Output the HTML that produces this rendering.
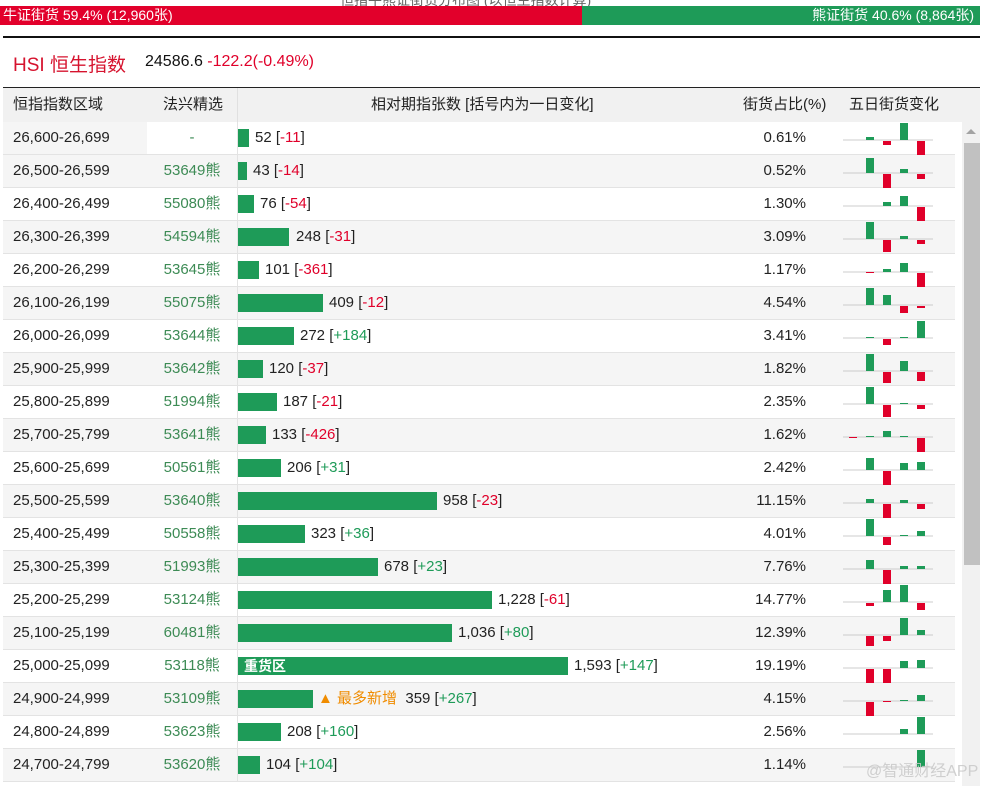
<!DOCTYPE html>
<html><head><meta charset="utf-8"><style>
body{margin:0;width:985px;height:786px;overflow:hidden;background:#fff;font-family:"Liberation Sans","Noto Sans CJK SC",sans-serif;position:relative}
.a{position:absolute}
.row{position:absolute;left:3px;width:952px;height:32px;border-bottom:1px solid #e3e3e3;font-size:15px;color:#222}
.row.g{background:#f5f5f5}
.c1{position:absolute;left:0;width:144px;height:32px;line-height:32px;padding-left:10px;box-sizing:border-box}
.c2{position:absolute;left:144px;width:90px;height:32px;line-height:32px;text-align:center;color:#3d8b55}
.bar{position:absolute;left:235px;top:7px;height:18px;background:#1e9b58}
.lb{position:absolute;top:0;line-height:32px;white-space:nowrap}
.r{color:#e0002a}.gn{color:#1e9b58}
.pc{position:absolute;right:149px;line-height:32px}
.mini{position:absolute;left:837px;top:0}
.dv{position:absolute;left:234px;top:0;width:1px;height:33px;background:#e3e3e3}
</style></head><body>
<div class="a" style="left:340px;top:-10px;font-size:14px;color:#666">恒指牛熊证街货分布图 (以恒生指数计算)</div>
<div class="a" style="left:0;top:6px;width:582px;height:19px;background:#e2002b;color:#fff;font-size:14px;line-height:19px;padding-left:3px;box-sizing:border-box">牛证街货 59.4% (12,960张)</div>
<div class="a" style="left:582px;top:6px;width:398px;height:19px;background:#1e9b58;color:#fff;font-size:14px;line-height:19px;text-align:right;padding-right:6px;box-sizing:border-box">熊证街货 40.6% (8,864张)</div>
<div class="a" style="left:3px;top:36px;width:977px;height:2px;background:#111"></div>
<div class="a" style="left:13px;top:50px;font-size:19px;color:#d6132e">HSI 恒生指数</div>
<div class="a" style="left:145px;top:53px;font-size:16px;color:#111">24586.6 <span class="r">-122.2(-0.49%)</span></div>
<div class="a" style="left:3px;top:87px;width:977px;height:1px;background:#222"></div>
<div class="a" style="left:3px;top:88px;width:977px;height:34px;background:#f1f1f1;font-size:15px;color:#222;line-height:34px">
<span class="a" style="left:10px">恒指指数区域</span><span class="a" style="left:160px">法兴精选</span>
<span class="a" style="left:234px;top:0;width:1px;height:34px;background:#e0e0e0"></span>
<span class="a" style="left:368px">相对期指张数 [括号内为一日变化]</span><span class="a" style="left:740px">街货占比(%)</span><span class="a" style="left:846px">五日街货变化</span></div>
<div class="a" style="left:962px;top:122px;width:18px;height:664px;background:#f1f1f1"></div>
<div class="a" style="left:964px;top:143px;width:16px;height:422px;background:#c1c1c1"></div>
<div class="a" style="left:966px;top:129px;width:0;height:0;border-left:5px solid transparent;border-right:5px solid transparent;border-bottom:5px solid #a3a3a3"></div>

<div class="row" style="top:122px"><div class="c1" style="background:#f5f5f5">26,600-26,699</div><div class="c2">-</div><div class="dv"></div><div class="bar" style="width:11px"></div><div class="lb" style="left:252px">52 [<span class="r">-11</span>]</div><div class="pc">0.61%</div><svg class="mini" width="100" height="33"><line x1="3" x2="93" y1="18" y2="18" stroke="#ccc"/><rect x="26" y="15" width="8" height="3" fill="#1e9b58"/><rect x="43" y="19" width="8" height="4" fill="#e0002a"/><rect x="60" y="1" width="8" height="17" fill="#1e9b58"/><rect x="77" y="19" width="8" height="15" fill="#e0002a"/></svg></div>

<div class="row g" style="top:155px"><div class="c1">26,500-26,599</div><div class="c2">53649熊</div><div class="dv"></div><div class="bar" style="width:9px"></div><div class="lb" style="left:250px">43 [<span class="r">-14</span>]</div><div class="pc">0.52%</div><svg class="mini" width="100" height="33"><line x1="3" x2="93" y1="18" y2="18" stroke="#ccc"/><rect x="26" y="3" width="8" height="15" fill="#1e9b58"/><rect x="43" y="19" width="8" height="17" fill="#e0002a"/><rect x="60" y="14" width="8" height="4" fill="#1e9b58"/><rect x="77" y="19" width="8" height="5" fill="#e0002a"/></svg></div>

<div class="row" style="top:188px"><div class="c1">26,400-26,499</div><div class="c2">55080熊</div><div class="dv"></div><div class="bar" style="width:16px"></div><div class="lb" style="left:257px">76 [<span class="r">-54</span>]</div><div class="pc">1.30%</div><svg class="mini" width="100" height="33"><line x1="3" x2="93" y1="18" y2="18" stroke="#ccc"/><rect x="43" y="14" width="8" height="4" fill="#1e9b58"/><rect x="60" y="8" width="8" height="10" fill="#1e9b58"/><rect x="77" y="19" width="8" height="15" fill="#e0002a"/></svg></div>

<div class="row g" style="top:221px"><div class="c1">26,300-26,399</div><div class="c2">54594熊</div><div class="dv"></div><div class="bar" style="width:51px"></div><div class="lb" style="left:293px">248 [<span class="r">-31</span>]</div><div class="pc">3.09%</div><svg class="mini" width="100" height="33"><line x1="3" x2="93" y1="18" y2="18" stroke="#ccc"/><rect x="26" y="1" width="8" height="17" fill="#1e9b58"/><rect x="43" y="19" width="8" height="12" fill="#e0002a"/><rect x="60" y="15" width="8" height="3" fill="#1e9b58"/><rect x="77" y="19" width="8" height="4" fill="#e0002a"/></svg></div>

<div class="row" style="top:254px"><div class="c1">26,200-26,299</div><div class="c2">53645熊</div><div class="dv"></div><div class="bar" style="width:21px"></div><div class="lb" style="left:262px">101 [<span class="r">-361</span>]</div><div class="pc">1.17%</div><svg class="mini" width="100" height="33"><line x1="3" x2="93" y1="18" y2="18" stroke="#ccc"/><rect x="26" y="18" width="8" height="1" fill="#e0002a"/><rect x="43" y="15" width="8" height="3" fill="#1e9b58"/><rect x="60" y="9" width="8" height="9" fill="#1e9b58"/><rect x="77" y="19" width="8" height="15" fill="#e0002a"/></svg></div>

<div class="row g" style="top:287px"><div class="c1">26,100-26,199</div><div class="c2">55075熊</div><div class="dv"></div><div class="bar" style="width:85px"></div><div class="lb" style="left:326px">409 [<span class="r">-12</span>]</div><div class="pc">4.54%</div><svg class="mini" width="100" height="33"><line x1="3" x2="93" y1="18" y2="18" stroke="#ccc"/><rect x="26" y="1" width="8" height="17" fill="#1e9b58"/><rect x="43" y="8" width="8" height="10" fill="#1e9b58"/><rect x="60" y="19" width="8" height="7" fill="#e0002a"/><rect x="77" y="19" width="8" height="2" fill="#e0002a"/></svg></div>

<div class="row" style="top:320px"><div class="c1">26,000-26,099</div><div class="c2">53644熊</div><div class="dv"></div><div class="bar" style="width:56px"></div><div class="lb" style="left:297px">272 [<span class="gn">+184</span>]</div><div class="pc">3.41%</div><svg class="mini" width="100" height="33"><line x1="3" x2="93" y1="18" y2="18" stroke="#ccc"/><rect x="26" y="17" width="8" height="1" fill="#1e9b58"/><rect x="43" y="19" width="8" height="6" fill="#e0002a"/><rect x="60" y="17" width="8" height="1" fill="#1e9b58"/><rect x="77" y="1" width="8" height="17" fill="#1e9b58"/></svg></div>

<div class="row g" style="top:353px"><div class="c1">25,900-25,999</div><div class="c2">53642熊</div><div class="dv"></div><div class="bar" style="width:25px"></div><div class="lb" style="left:266px">120 [<span class="r">-37</span>]</div><div class="pc">1.82%</div><svg class="mini" width="100" height="33"><line x1="3" x2="93" y1="18" y2="18" stroke="#ccc"/><rect x="26" y="1" width="8" height="17" fill="#1e9b58"/><rect x="43" y="19" width="8" height="11" fill="#e0002a"/><rect x="60" y="8" width="8" height="10" fill="#1e9b58"/><rect x="77" y="19" width="8" height="9" fill="#e0002a"/></svg></div>

<div class="row" style="top:386px"><div class="c1">25,800-25,899</div><div class="c2">51994熊</div><div class="dv"></div><div class="bar" style="width:39px"></div><div class="lb" style="left:280px">187 [<span class="r">-21</span>]</div><div class="pc">2.35%</div><svg class="mini" width="100" height="33"><line x1="3" x2="93" y1="18" y2="18" stroke="#ccc"/><rect x="26" y="1" width="8" height="17" fill="#1e9b58"/><rect x="43" y="19" width="8" height="12" fill="#e0002a"/><rect x="60" y="17" width="8" height="1" fill="#1e9b58"/><rect x="77" y="19" width="8" height="4" fill="#e0002a"/></svg></div>

<div class="row g" style="top:419px"><div class="c1">25,700-25,799</div><div class="c2">53641熊</div><div class="dv"></div><div class="bar" style="width:28px"></div><div class="lb" style="left:269px">133 [<span class="r">-426</span>]</div><div class="pc">1.62%</div><svg class="mini" width="100" height="33"><line x1="3" x2="93" y1="18" y2="18" stroke="#ccc"/><rect x="9" y="18" width="8" height="1" fill="#e0002a"/><rect x="26" y="17" width="8" height="1" fill="#1e9b58"/><rect x="43" y="12" width="8" height="6" fill="#1e9b58"/><rect x="60" y="17" width="8" height="1" fill="#1e9b58"/><rect x="77" y="19" width="8" height="17" fill="#e0002a"/></svg></div>

<div class="row" style="top:452px"><div class="c1">25,600-25,699</div><div class="c2">50561熊</div><div class="dv"></div><div class="bar" style="width:43px"></div><div class="lb" style="left:284px">206 [<span class="gn">+31</span>]</div><div class="pc">2.42%</div><svg class="mini" width="100" height="33"><line x1="3" x2="93" y1="18" y2="18" stroke="#ccc"/><rect x="26" y="6" width="8" height="12" fill="#1e9b58"/><rect x="43" y="19" width="8" height="15" fill="#e0002a"/><rect x="60" y="11" width="8" height="7" fill="#1e9b58"/><rect x="77" y="10" width="8" height="8" fill="#1e9b58"/></svg></div>

<div class="row g" style="top:485px"><div class="c1">25,500-25,599</div><div class="c2">53640熊</div><div class="dv"></div><div class="bar" style="width:199px"></div><div class="lb" style="left:440px">958 [<span class="r">-23</span>]</div><div class="pc">11.15%</div><svg class="mini" width="100" height="33"><line x1="3" x2="93" y1="18" y2="18" stroke="#ccc"/><rect x="26" y="14" width="8" height="4" fill="#1e9b58"/><rect x="43" y="19" width="8" height="17" fill="#e0002a"/><rect x="60" y="15" width="8" height="3" fill="#1e9b58"/><rect x="77" y="19" width="8" height="5" fill="#e0002a"/></svg></div>

<div class="row" style="top:518px"><div class="c1">25,400-25,499</div><div class="c2">50558熊</div><div class="dv"></div><div class="bar" style="width:67px"></div><div class="lb" style="left:308px">323 [<span class="gn">+36</span>]</div><div class="pc">4.01%</div><svg class="mini" width="100" height="33"><line x1="3" x2="93" y1="18" y2="18" stroke="#ccc"/><rect x="26" y="1" width="8" height="17" fill="#1e9b58"/><rect x="43" y="19" width="8" height="8" fill="#e0002a"/><rect x="60" y="17" width="8" height="1" fill="#1e9b58"/><rect x="77" y="13" width="8" height="5" fill="#1e9b58"/></svg></div>

<div class="row g" style="top:551px"><div class="c1">25,300-25,399</div><div class="c2">51993熊</div><div class="dv"></div><div class="bar" style="width:140px"></div><div class="lb" style="left:381px">678 [<span class="gn">+23</span>]</div><div class="pc">7.76%</div><svg class="mini" width="100" height="33"><line x1="3" x2="93" y1="18" y2="18" stroke="#ccc"/><rect x="26" y="9" width="8" height="9" fill="#1e9b58"/><rect x="43" y="19" width="8" height="17" fill="#e0002a"/><rect x="60" y="15" width="8" height="3" fill="#1e9b58"/><rect x="77" y="15" width="8" height="3" fill="#1e9b58"/></svg></div>

<div class="row" style="top:584px"><div class="c1">25,200-25,299</div><div class="c2">53124熊</div><div class="dv"></div><div class="bar" style="width:254px"></div><div class="lb" style="left:495px">1,228 [<span class="r">-61</span>]</div><div class="pc">14.77%</div><svg class="mini" width="100" height="33"><line x1="3" x2="93" y1="18" y2="18" stroke="#ccc"/><rect x="26" y="19" width="8" height="3" fill="#e0002a"/><rect x="43" y="6" width="8" height="12" fill="#1e9b58"/><rect x="60" y="1" width="8" height="17" fill="#1e9b58"/><rect x="77" y="19" width="8" height="7" fill="#e0002a"/></svg></div>

<div class="row g" style="top:617px"><div class="c1">25,100-25,199</div><div class="c2">60481熊</div><div class="dv"></div><div class="bar" style="width:214px"></div><div class="lb" style="left:455px">1,036 [<span class="gn">+80</span>]</div><div class="pc">12.39%</div><svg class="mini" width="100" height="33"><line x1="3" x2="93" y1="18" y2="18" stroke="#ccc"/><rect x="26" y="19" width="8" height="10" fill="#e0002a"/><rect x="43" y="19" width="8" height="5" fill="#e0002a"/><rect x="60" y="1" width="8" height="17" fill="#1e9b58"/><rect x="77" y="13" width="8" height="5" fill="#1e9b58"/></svg></div>

<div class="row" style="top:650px"><div class="c1">25,000-25,099</div><div class="c2">53118熊</div><div class="dv"></div><div class="bar" style="width:330px;color:#fff;font-weight:bold;font-size:14px;line-height:18px;padding-left:6px;box-sizing:border-box">重货区</div><div class="lb" style="left:571px">1,593 [<span class="gn">+147</span>]</div><div class="pc">19.19%</div><svg class="mini" width="100" height="33"><line x1="3" x2="93" y1="18" y2="18" stroke="#ccc"/><rect x="26" y="19" width="8" height="15" fill="#e0002a"/><rect x="43" y="19" width="8" height="15" fill="#e0002a"/><rect x="60" y="11" width="8" height="7" fill="#1e9b58"/><rect x="77" y="10" width="8" height="8" fill="#1e9b58"/></svg></div>

<div class="row g" style="top:683px"><div class="c1">24,900-24,999</div><div class="c2">53109熊</div><div class="dv"></div><div class="bar" style="width:75px"></div><div class="lb" style="left:315px"><span style="color:#f08c00">▲ 最多新增</span>&nbsp; 359 [<span class="gn">+267</span>]</div><div class="pc">4.15%</div><svg class="mini" width="100" height="33"><line x1="3" x2="93" y1="18" y2="18" stroke="#ccc"/><rect x="26" y="19" width="8" height="17" fill="#e0002a"/><rect x="43" y="18" width="8" height="1" fill="#e0002a"/><rect x="60" y="17" width="8" height="1" fill="#1e9b58"/><rect x="77" y="12" width="8" height="6" fill="#1e9b58"/></svg></div>

<div class="row" style="top:716px"><div class="c1">24,800-24,899</div><div class="c2">53623熊</div><div class="dv"></div><div class="bar" style="width:43px"></div><div class="lb" style="left:284px">208 [<span class="gn">+160</span>]</div><div class="pc">2.56%</div><svg class="mini" width="100" height="33"><line x1="3" x2="93" y1="18" y2="18" stroke="#ccc"/><rect x="60" y="13" width="8" height="5" fill="#1e9b58"/><rect x="77" y="1" width="8" height="17" fill="#1e9b58"/></svg></div>

<div class="row g" style="top:749px"><div class="c1">24,700-24,799</div><div class="c2">53620熊</div><div class="dv"></div><div class="bar" style="width:22px"></div><div class="lb" style="left:263px">104 [<span class="gn">+104</span>]</div><div class="pc">1.14%</div><svg class="mini" width="100" height="33"><line x1="3" x2="93" y1="18" y2="18" stroke="#ccc"/><rect x="77" y="1" width="8" height="17" fill="#1e9b58"/></svg></div>

<div class="a" style="left:866px;top:757px;font-size:16px;color:rgba(200,200,200,0.85);white-space:nowrap">@智通财经APP</div>
</body></html>
